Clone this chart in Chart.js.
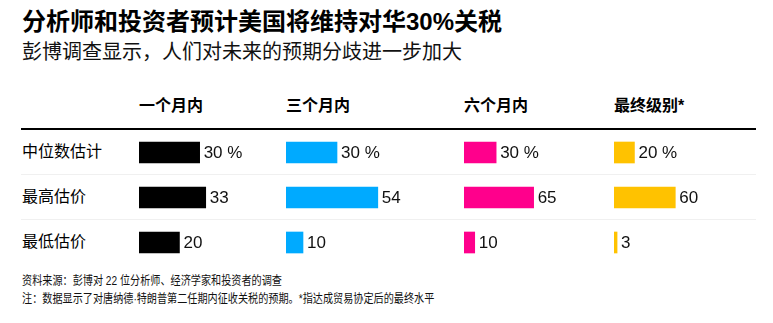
<!DOCTYPE html>
<html>
<head>
<meta charset="utf-8">
<script src="https://cdn.jsdelivr.net/npm/chart.js@4/dist/chart.umd.min.js"></script>
<style>
  html, body { margin:0; padding:0; background:#fff; }
  body { width:773px; height:323px; position:relative; overflow:hidden;
         font-family:"Liberation Sans","Noto Sans CJK SC",sans-serif; color:#000; }
  .abs { position:absolute; white-space:nowrap; }
  #title { left:22px; top:6px; font-size:24px; font-weight:bold; line-height:32px; }
  #subtitle { left:22px; top:37px; font-size:20px; line-height:30px; color:#111; }
  .hdr { top:95px; font-size:16px; font-weight:bold; line-height:22px; }
  .rowlab { left:22px; font-size:16px; line-height:22px; }
  #hline { left:21px; top:128px; width:735px; height:2px; background:#000; }
  .sep { left:21px; width:735px; height:1px; background:#f0f0f0; }
  .foot { left:22px; font-size:12.5px; line-height:18px; color:#111; transform:scaleX(0.81); transform-origin:left center; }
  canvas { position:absolute; }
</style>
</head>
<body>
<div id="title" class="abs"></div>
<div id="subtitle" class="abs"></div>
<div id="hline" class="abs"></div>
<div id="root"></div>
<script>
// ---- data ----
const titleText = '分析师和投资者预计美国将维持对华30%关税';
const subtitleText = '彭博调查显示，人们对未来的预期分歧进一步加大';
const rowLabels = ['中位数估计', '最高估价', '最低估价'];
const panelTitles = ['一个月内', '三个月内', '六个月内', '最终级别*'];
const oneMonth = [30, 33, 20];
const threeMonth = [30, 54, 10];
const sixMonth = [30, 65, 10];
const finalLevel = [20, 60, 3];
const panelColors = ['#000000', '#00AAFF', '#FF008C', '#FFC200'];
const panelMax = [72.7, 104.7, 140, 139];
const footnotes = [
  '资料来源：彭博对 22 位分析师、经济学家和投资者的调查',
  '注：数据显示了对唐纳德·特朗普第二任期内征收关税的预期。*指达成贸易协定后的最终水平'
];

// ---- layout ----
const panelData = [oneMonth, threeMonth, sixMonth, finalLevel];
const panelLeft = [139, 286, 464, 614];
const panelWidth = [147, 178, 150, 142];
const rowsTop = 130, rowH = 45;

document.getElementById('title').textContent = titleText;
document.getElementById('subtitle').textContent = subtitleText;
const root = document.getElementById('root');

function addDiv(cls, text, style) {
  const d = document.createElement('div');
  d.className = 'abs ' + cls;
  if (text) d.textContent = text;
  Object.assign(d.style, style);
  root.appendChild(d);
  return d;
}

panelTitles.forEach((t, i) => addDiv('hdr', t, { left: panelLeft[i] + 'px' }));
rowLabels.forEach((t, i) => addDiv('rowlab', t, { top: (rowsTop + rowH * i + rowH / 2 - 11 - 1) + 'px' }));
[1, 2].forEach(i => addDiv('sep', '', { top: (rowsTop + rowH * i - 1) + 'px' }));
footnotes.forEach((t, i) => addDiv('foot', t, { top: (272 + 18 * i) + 'px' }));

const valueLabels = {
  id: 'valueLabels',
  afterDatasetsDraw(chart) {
    const ctx = chart.ctx;
    const meta = chart.getDatasetMeta(0);
    ctx.save();
    ctx.font = '17px "Liberation Sans", sans-serif';
    ctx.fillStyle = '#111';
    ctx.textBaseline = 'middle';
    ctx.textAlign = 'left';
    meta.data.forEach((bar, j) => {
      const v = chart.data.datasets[0].data[j];
      const txt = j === 0 ? v + ' %' : String(v);
      ctx.fillText(txt, bar.x + 4, bar.y + 1);
    });
    ctx.restore();
  }
};

panelData.forEach((vals, i) => {
  const c = document.createElement('canvas');
  c.width = panelWidth[i];
  c.height = rowH * 3;
  c.style.left = panelLeft[i] + 'px';
  c.style.top = rowsTop + 'px';
  c.style.width = panelWidth[i] + 'px';
  c.style.height = (rowH * 3) + 'px';
  root.appendChild(c);
  new Chart(c, {
    type: 'bar',
    data: {
      labels: rowLabels,
      datasets: [{ data: vals, backgroundColor: panelColors[i], barThickness: 21, borderWidth: 0 }]
    },
    options: {
      indexAxis: 'y',
      responsive: false,
      animation: false,
      devicePixelRatio: 1,
      layout: { padding: 0 },
      plugins: { legend: { display: false }, tooltip: { enabled: false } },
      scales: {
        x: { display: false, min: 0, max: panelMax[i] },
        y: { display: false, offset: true }
      }
    },
    plugins: [valueLabels]
  });
});
</script>
</body>
</html>
